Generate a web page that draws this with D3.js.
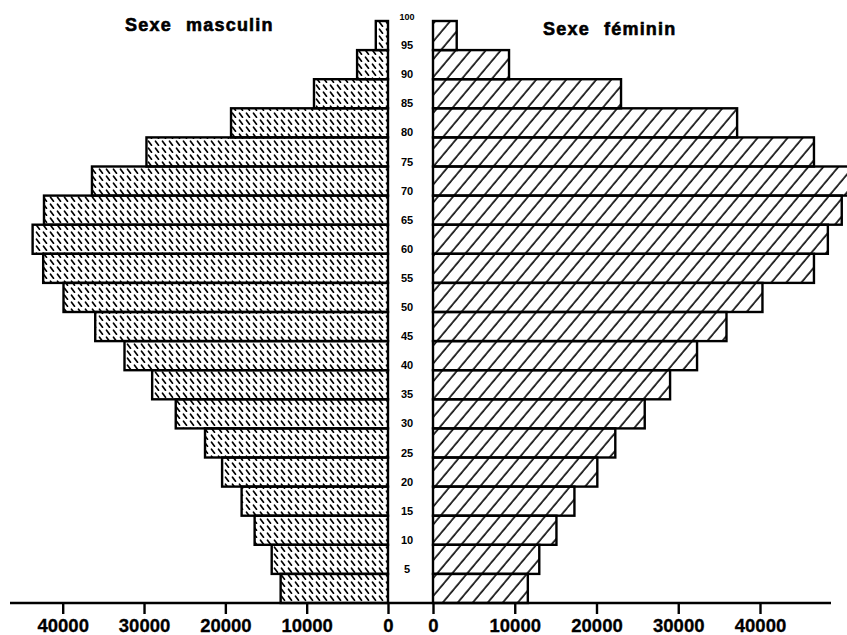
<!DOCTYPE html>
<html>
<head>
<meta charset="utf-8">
<script src="https://cdn.jsdelivr.net/npm/d3@7/dist/d3.min.js"></script>
<style>
  html, body { margin: 0; padding: 0; background: #fff; }
  svg { display: block; }
</style>
</head>
<body>
<svg id="chart" width="847" height="635"></svg>
<script>
// ---- data (top to bottom: oldest first) ----
const ageGroups = ["95-99","90-94","85-89","80-84","75-79","70-74","65-69","60-64","55-59","50-54",
                   "45-49","40-44","35-39","30-34","25-29","20-24","15-19","10-14","5-9","0-4"];
const maleValues   = [1500, 3800, 9100, 19300, 29700, 36400, 42300, 43700, 42400, 39900,
                      36000, 32400, 29000, 26100, 22500, 20400, 18000, 16400, 14300, 13200];
const femaleValues = [2900, 9300, 23000, 37200, 46600, 51500, 50000, 48300, 46600, 40300,
                      35900, 32300, 29000, 25900, 22300, 20100, 17300, 15100, 13000, 11600];
const ageTicks = [5,10,15,20,25,30,35,40,45,50,55,60,65,70,75,80,85,90,95,100];
const popTicks = [0,10000,20000,30000,40000];
const titleMale = "Sexe masculin";
const titleFemale = "Sexe féminin";

const svg = d3.select("#chart");
const FONT = "Liberation Sans, Arial, Helvetica, sans-serif";

// ---- scales ----
const y = d3.scaleBand().domain(ageGroups).range([21, 603]).padding(0);
const yAge = d3.scaleLinear().domain([0, 100]).range([603, 21]);
const xMale = d3.scaleLinear().domain([0, 40000]).range([388, 62.7]);
const xFemale = d3.scaleLinear().domain([0, 40000]).range([433, 760]);

// ---- patterns ----
const defs = svg.append("defs");
const pm = defs.append("pattern")
  .attr("id", "dashes").attr("patternUnits", "userSpaceOnUse")
  .attr("width", 7).attr("height", 7);
pm.append("line").attr("x1", 1.5).attr("y1", 1.2).attr("x2", 4.5).attr("y2", 5.2)
  .attr("stroke", "#000").attr("stroke-width", 1.7).attr("stroke-linecap", "round");

const pf = defs.append("pattern")
  .attr("id", "hatch").attr("patternUnits", "userSpaceOnUse")
  .attr("width", 11.5).attr("height", 20)
  .attr("patternTransform", "rotate(40)");
pf.append("line").attr("x1", 2).attr("y1", 0).attr("x2", 2).attr("y2", 20)
  .attr("stroke", "#000").attr("stroke-width", 1.6);

// ---- bars ----
svg.append("g").selectAll("rect")
  .data(ageGroups)
  .join("rect")
  .attr("x", (d, i) => xMale(maleValues[i]))
  .attr("y", d => y(d))
  .attr("width", (d, i) => xMale(0) - xMale(maleValues[i]))
  .attr("height", y.bandwidth())
  .attr("fill", "url(#dashes)")
  .attr("stroke", "#000").attr("stroke-width", 2.4);

svg.append("g").selectAll("rect")
  .data(ageGroups)
  .join("rect")
  .attr("x", xFemale(0))
  .attr("y", d => y(d))
  .attr("width", (d, i) => xFemale(femaleValues[i]) - xFemale(0))
  .attr("height", y.bandwidth())
  .attr("fill", "url(#hatch)")
  .attr("stroke", "#000").attr("stroke-width", 2.4);

// ---- age labels ----
svg.append("g").selectAll("text")
  .data(ageTicks)
  .join("text")
  .attr("x", 407)
  .attr("y", d => yAge(d) - 1)
  .attr("text-anchor", "middle")
  .attr("font-family", FONT)
  .attr("font-weight", "bold")
  .attr("font-size", d => d === 100 ? 9 : 11)
  .text(d => d);

// ---- bottom axes ----
svg.append("line")
  .attr("x1", 10).attr("x2", 831).attr("y1", 603).attr("y2", 603)
  .attr("stroke", "#000").attr("stroke-width", 2.4);

function styleAxis(g) {
  g.select(".domain").remove();
  g.selectAll(".tick line").attr("stroke", "#000").attr("stroke-width", 2.4);
  g.selectAll(".tick text")
    .attr("font-family", FONT)
    .attr("font-weight", "bold")
    .attr("font-size", 18.5)
    .attr("fill", "#000")
    .attr("stroke", "#000").attr("stroke-width", 0.3);
}

svg.append("g").attr("transform", "translate(0,603)")
  .call(d3.axisBottom(xMale).tickValues(popTicks).tickFormat(d => d).tickSize(11).tickPadding(5))
  .call(styleAxis);
svg.append("g").attr("transform", "translate(0,603)")
  .call(d3.axisBottom(xFemale).tickValues(popTicks).tickFormat(d => d).tickSize(11).tickPadding(5))
  .call(styleAxis);

// ---- titles ----
svg.append("text")
  .attr("x", 125).attr("y", 31)
  .attr("font-family", FONT)
  .attr("font-weight", "bold").attr("font-size", 18)
  .attr("stroke", "#000").attr("stroke-width", 0.6)
  .attr("letter-spacing", 1.2).attr("word-spacing", 8)
  .text(titleMale);
svg.append("text")
  .attr("x", 543).attr("y", 35)
  .attr("font-family", FONT)
  .attr("font-weight", "bold").attr("font-size", 18)
  .attr("stroke", "#000").attr("stroke-width", 0.6)
  .attr("letter-spacing", 1.2).attr("word-spacing", 8)
  .text(titleFemale);
</script>
</body>
</html>
